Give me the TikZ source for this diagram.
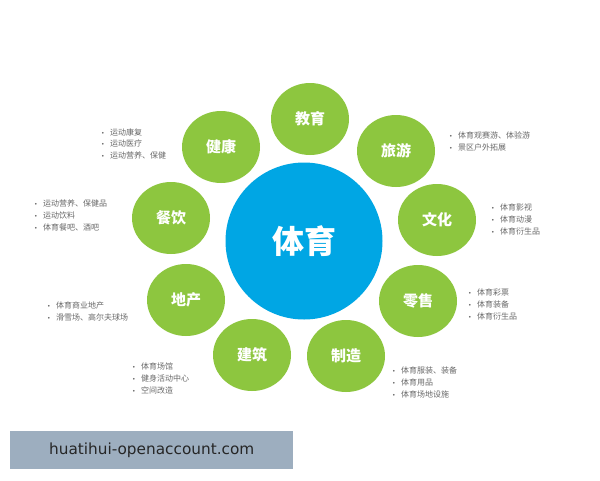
\documentclass[tikz,border=0pt]{standalone}
\usepackage{fontspec}
\setmainfont{Noto Sans CJK SC}
\newfontfamily\dejavu{DejaVu Sans}
\usetikzlibrary{shapes.geometric}
\definecolor{sgreen}{RGB}{141,198,63}
\definecolor{sblue}{RGB}{0,166,228}
\definecolor{sgray}{RGB}{105,105,105}
\definecolor{wbox}{RGB}{157,174,191}
\newcommand\bl{\makebox[9pt][l]{\dejavu\fontsize{6}{11.8}\selectfont •}}
\begin{document}
\begin{tikzpicture}[x=1pt,y=-1pt,
  sector/.style={ellipse, fill=sgreen, minimum width=78pt, minimum height=72pt, inner sep=0pt, text=white, font=\fontsize{15}{15}\selectfont\bfseries},
  hub/.style={circle, fill=sblue, minimum size=157pt, inner sep=0pt, text=white, font=\fontsize{32}{32}\selectfont\bfseries},
  items/.style={anchor=north west, align=left, text=sgray, font=\fontsize{8}{11.8}\selectfont, inner sep=0pt}]
\useasboundingbox (0,0) rectangle (600,480);
\fill[white] (0,0) rectangle (600,480);

\node[hub] (hub) at (304,241) {体育};

\node[sector] (jiaoyu) at (310,119) {教育};
\node[sector] (lvyou) at (396,151) {旅游};
\node[sector] (wenhua) at (437,220) {文化};
\node[sector] (lingshou) at (418,301) {零售};
\node[sector] (zhizao) at (346,356) {制造};
\node[sector] (jianzhu) at (252,355) {建筑};
\node[sector] (dichan) at (186,300) {地产};
\node[sector] (canyin) at (171,218) {餐饮};
\node[sector] (jiankang) at (221,147) {健康};

\node[items] (l1) at (101,128) {\bl 运动康复\\\bl 运动医疗\\\bl 运动营养、保健};
\node[items] (l2) at (449,132) {\bl 体育观赛游、体验游\\\bl 景区户外拓展};
\node[items] (l3) at (34,200) {\bl 运动营养、保健品\\\bl 运动饮料\\\bl 体育餐吧、酒吧};
\node[items] (l4) at (491,204) {\bl 体育影视\\\bl 体育动漫\\\bl 体育衍生品};
\node[items] (l5) at (47,302) {\bl 体育商业地产\\\bl 滑雪场、高尔夫球场};
\node[items] (l6) at (468,289) {\bl 体育彩票\\\bl 体育装备\\\bl 体育衍生品};
\node[items] (l7) at (132,363) {\bl 体育场馆\\\bl 健身活动中心\\\bl 空间改造};
\node[items] (l8) at (392,367) {\bl 体育服装、装备\\\bl 体育用品\\\bl 体育场地设施};

\node[fill=wbox, minimum width=283pt, minimum height=38pt, inner sep=0pt, anchor=north west,
      font=\dejavu\fontsize{15.3}{16}\selectfont, text=black!85] (wm) at (10,431) {huatihui-openaccount.com};
\end{tikzpicture}
\end{document}
